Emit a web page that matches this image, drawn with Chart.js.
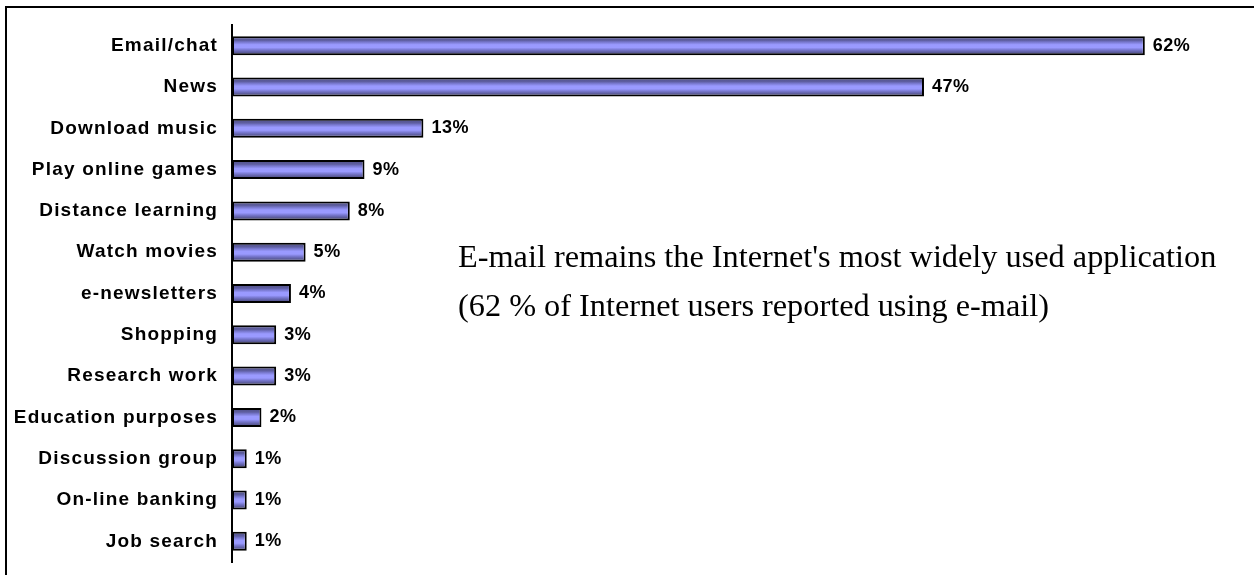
<!DOCTYPE html>
<html>
<head>
<meta charset="utf-8">
<script src="https://cdn.jsdelivr.net/npm/chart.js@4.4.1/dist/chart.umd.min.js"></script>
<style>
  html, body { margin: 0; padding: 0; background: #fff; overflow: hidden; }
  #wrap { position: relative; width: 1254px; height: 575px; }
  #frame { position: absolute; left: 5px; top: 6px; right: -10px; bottom: -10px;
           border-top: 2px solid #000; border-left: 2px solid #000; pointer-events: none; }
</style>
</head>
<body>
<div id="wrap">
  <canvas id="chart"></canvas>
  <div id="frame"></div>
</div>
<script>
const categories = [
  'Email/chat', 'News', 'Download music', 'Play online games', 'Distance learning',
  'Watch movies', 'e-newsletters', 'Shopping', 'Research work', 'Education purposes',
  'Discussion group', 'On-line banking', 'Job search'
];
const usage = [62, 47, 13, 9, 8, 5, 4, 3, 3, 2, 1, 1, 1];
const noteLines = [
  "E-mail remains the Internet's most widely used application",
  '(62 % of Internet users reported using e-mail)'
];

const BAR_PCT = 0.46;

// stripey fill like the old 3D bar look
function barFill(context) {
  const chart = context.chart;
  const y = chart.scales.y;
  if (!y || !chart.chartArea) return '#8080e0';
  const c = y.getPixelForValue(context.dataIndex);
  const half = Math.abs(y.getPixelForValue(1) - y.getPixelForValue(0)) * BAR_PCT / 2;
  const g = chart.ctx.createLinearGradient(0, c - half, 0, c + half);
  g.addColorStop(0, '#4e4e86');
  g.addColorStop(0.22, '#5e5ea0');
  g.addColorStop(0.3, '#7474c8');
  g.addColorStop(0.45, '#9a9aff');
  g.addColorStop(0.6, '#9a9aff');
  g.addColorStop(0.72, '#7878d0');
  g.addColorStop(0.85, '#5c5c9c');
  g.addColorStop(1, '#4a4a80');
  return g;
}

const extras = {
  id: 'extras',
  beforeDraw(chart) {
    chart.ctx.letterSpacing = '1.2px';
  },
  afterDatasetsDraw(chart) {
    const ctx = chart.ctx;
    ctx.save();
    ctx.letterSpacing = '0.5px';
    ctx.fillStyle = '#000';
    ctx.font = 'bold 18px Arial, "Liberation Sans", sans-serif';
    ctx.textAlign = 'left';
    ctx.textBaseline = 'middle';
    chart.getDatasetMeta(0).data.forEach((bar, i) => {
      ctx.fillText(usage[i] + '%', bar.x + 8, bar.y);
    });
    ctx.restore();
  },
  afterDraw(chart) {
    const ctx = chart.ctx;
    ctx.save();
    ctx.letterSpacing = '0px';
    ctx.fillStyle = '#000';
    ctx.font = '32.3px "Times New Roman", "Liberation Serif", serif';
    ctx.textAlign = 'left';
    ctx.textBaseline = 'alphabetic';
    ctx.fillText(noteLines[0], 458, 267);
    ctx.fillText(noteLines[1], 458, 316);
    ctx.restore();
  }
};

new Chart(document.getElementById('chart'), {
  type: 'bar',
  data: {
    labels: categories,
    datasets: [{
      data: usage,
      backgroundColor: barFill,
      borderColor: '#000',
      borderWidth: 2,
      borderSkipped: false,
      barPercentage: BAR_PCT,
      categoryPercentage: 1
    }]
  },
  options: {
    indexAxis: 'y',
    responsive: true,
    maintainAspectRatio: false,
    animation: false,
    layout: { padding: { top: 25, bottom: 13, right: 65, left: 0 } },
    plugins: { legend: { display: false }, tooltip: { enabled: false } },
    scales: {
      x: { display: false, min: 0, max: 65 },
      y: {
        afterFit(scale) {
          scale.width = 232;
          scale.paddingTop = 0;
          scale.paddingBottom = 0;
        },
        grid: { display: true, drawOnChartArea: false, drawTicks: false },
        border: { display: true, color: '#000', width: 2 },
        ticks: {
          color: '#000',
          padding: 14,
          font: { family: 'Arial, "Liberation Sans", sans-serif', size: 19, weight: 'bold' }
        }
      }
    }
  },
  plugins: [extras]
});
</script>
</body>
</html>
